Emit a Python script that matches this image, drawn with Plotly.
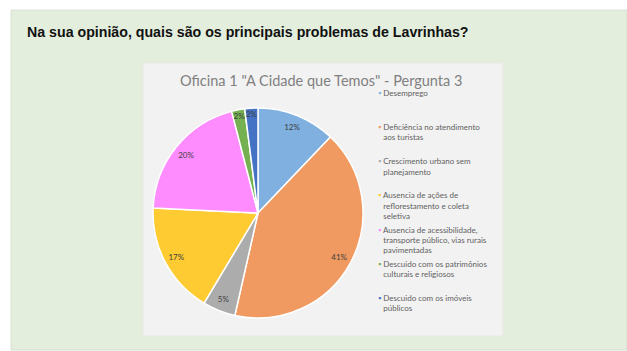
import plotly.graph_objects as go

# Survey answers: "main problems of Lavrinhas" (share of responses, %)
categories = [
    "Desemprego",
    "Deficiência no atendimento aos turistas",
    "Crescimento urbano sem planejamento",
    "Ausencia de ações de reflorestamento e coleta seletiva",
    "Ausencia de acessibilidade, transporte público, vias rurais pavimentadas",
    "Descuido com os patrimônios culturais e religiosos",
    "Descuido com os imóveis públicos",
]
values = [12, 41, 5, 17, 20, 2, 2]
colors = ["#7fb0e0", "#f09a62", "#acacac", "#ffcb33", "#ff8cff", "#75b150", "#4472c4"]

# Wrapped legend text, one list of lines per category
legend_lines = [
    ["Desemprego"],
    ["Deficiência no atendimento", "aos turistas"],
    ["Crescimento urbano sem", "planejamento"],
    ["Ausencia de ações de", "reflorestamento e coleta", "seletiva"],
    ["Ausencia de acessibilidade,", "transporte público, vias rurais", "pavimentadas"],
    ["Descuido com os patrimônios", "culturais e religiosos"],
    ["Descuido com os imóveis", "públicos"],
]

W, H = 627, 351
cx, cy, r = 258, 213, 105  # pie centre / radius in pixels

dom_x = [(cx - r) / W, (cx + r) / W]
dom_y = [(H - cy - r) / H, (H - cy + r) / H]

fig = go.Figure()

# Slices
fig.add_trace(go.Pie(
    labels=categories, values=values, sort=False, direction="clockwise", rotation=0,
    marker=dict(colors=colors, line=dict(color="white", width=1.5)),
    textinfo="none", showlegend=False, hoverinfo="label+value",
    domain=dict(x=dom_x, y=dom_y),
))

# Percentage labels, placed in an outer ring of the same pie
fig.add_trace(go.Pie(
    labels=categories, values=values, sort=False, direction="clockwise", rotation=0,
    hole=0.76,
    marker=dict(colors=["rgba(0,0,0,0)"] * len(values), line=dict(width=0)),
    texttemplate="%{value}%", textposition="inside", insidetextorientation="horizontal",
    insidetextfont=dict(family="Lato", size=8, color="#404040"),
    showlegend=False, hoverinfo="skip",
    domain=dict(x=dom_x, y=dom_y),
))

# Legend entries with small coloured squares
blank = "rgba(0,0,0,0)"
for lines, col in zip(legend_lines, colors):
    first = f"<span style='color:{col}'>▪</span>\u00a0" + lines[0]
    rest = [f"<span style='color:{blank}'>▪</span>\u00a0" + ln for ln in lines[1:]]
    while len(rest) < 2:
        rest.append("\u00a0")
    fig.add_trace(go.Scatter(
        x=[None], y=[None], mode="markers",
        marker=dict(size=1, color=blank, line=dict(width=0)),
        name="<br>".join([first] + rest), hoverinfo="skip",
    ))

fig.update_layout(
    width=W, height=H, autosize=False,
    margin=dict(l=0, r=0, t=0, b=0),
    paper_bgcolor="white", plot_bgcolor="rgba(0,0,0,0)",
    xaxis=dict(visible=False), yaxis=dict(visible=False),
    showlegend=True,
    legend=dict(
        x=338 / W, y=1 - 81 / H, xanchor="left", yanchor="top",
        bgcolor="rgba(0,0,0,0)", borderwidth=0, valign="top",
        font=dict(family="Lato", size=8, color="#5f5f5f"),
        tracegroupgap=0, itemclick=False, itemdoubleclick=False,
    ),
    uniformtext=dict(minsize=8, mode="show"),
    shapes=[
        # slide background
        dict(type="rect", xref="paper", yref="paper", layer="below",
             x0=11 / W, x1=1, y0=1 - 350 / H, y1=1 - 10 / H,
             fillcolor="#e3eedc", line=dict(color="#d3dccf", width=0.8)),
        # chart panel
        dict(type="rect", xref="paper", yref="paper", layer="below",
             x0=143 / W, x1=503 / W, y0=1 - 336 / H, y1=1 - 63 / H,
             fillcolor="#f2f2f2", line=dict(color="#e6e6e6", width=0.8)),
    ],
    annotations=[
        dict(text="<b>Na sua opinião, quais são os principais problemas de Lavrinhas?</b>",
             xref="paper", yref="paper", x=25 / W, y=1 - 32 / H,
             xanchor="left", yanchor="middle", showarrow=False,
             font=dict(family="Liberation Sans", size=14.2, color="#111111")),
        dict(text='Oficina 1 "A Cidade que Temos" - Pergunta 3',
             xref="paper", yref="paper", x=321 / W, y=1 - 80 / H,
             xanchor="center", yanchor="middle", showarrow=False,
             font=dict(family="Lato", size=14.5, color="#808080")),
    ],
)

fig.write_html("out.html")
